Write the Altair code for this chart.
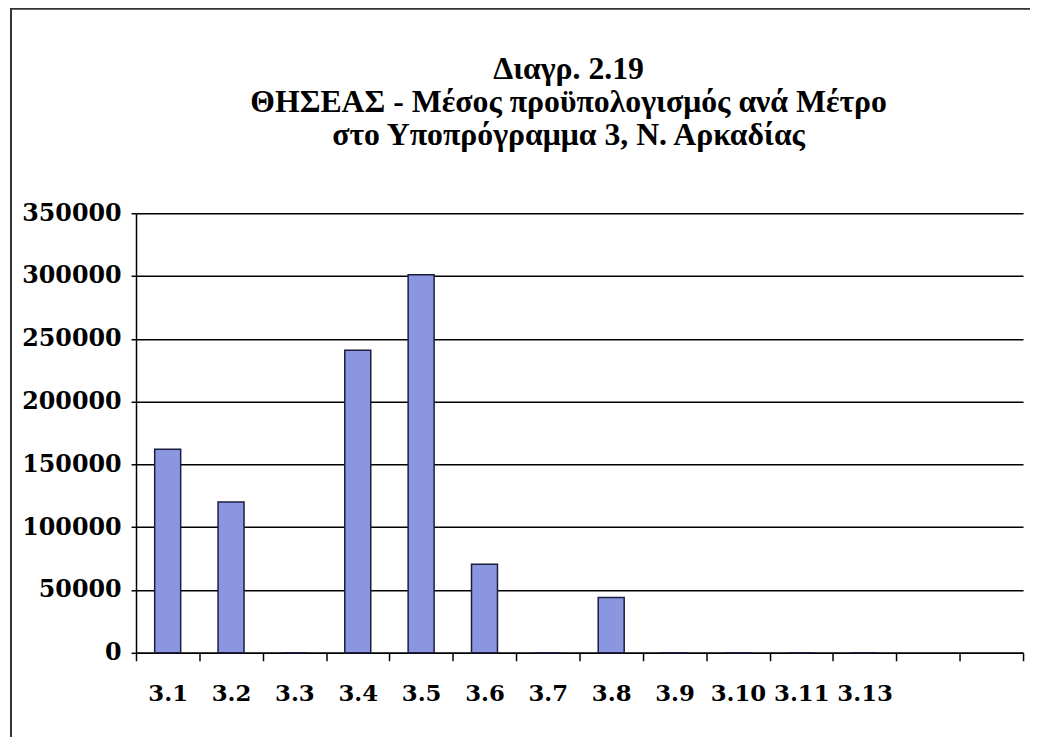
import altair as alt
import pandas as pd

# ---- data ----
categories = ["3.1", "3.2", "3.3", "3.4", "3.5", "3.6", "3.7", "3.8", "3.9", "3.10", "3.11", "3.13"]
values = [162000, 120000, 0, 241000, 301000, 70500, 0, 44000, 0, 0, 0, 0]
empty_slots = [" ", "  "]          # two unlabeled category slots at the right end
y_ticks = [0, 50000, 100000, 150000, 200000, 250000, 300000, 350000]
title_lines = [
    "Διαγρ. 2.19",
    "ΘΗΣΕΑΣ - Μέσος προϋπολογισμός ανά Μέτρο",
    "στο Υποπρόγραμμα 3, Ν. Αρκαδίας",
]

df = pd.DataFrame({"metro": categories, "value": values})
domain = categories + empty_slots

PLOT_W, PLOT_H = 894, 443

bars = alt.Chart(df).mark_bar(
    color="#8A97E0",
    stroke="#1c1c3c",
    strokeWidth=1.5,
    width=alt.RelativeBandSize(0.41),
).encode(
    x=alt.X(
        "metro:N",
        sort=domain,
        scale=alt.Scale(domain=domain, paddingInner=0, paddingOuter=0),
        axis=alt.Axis(
            title=None,
            labelAngle=0,
            labelFont="DejaVu Serif",
            labelFontWeight="bold",
            labelFontSize=23,
            labelColor="black",
            labelPadding=22,
            tickBand="extent",
            tickSize=8,
            tickWidth=1.5,
            tickColor="black",
            domainColor="black",
            domainWidth=1.5,
            grid=False,
        ),
    ),
    y=alt.Y(
        "value:Q",
        scale=alt.Scale(domain=[0, 350000], nice=False),
        axis=alt.Axis(
            title=None,
            values=y_ticks,
            format="d",
            labelFont="DejaVu Serif",
            labelFontWeight="bold",
            labelFontSize=24,
            labelColor="black",
            labelPadding=10,
            tickSize=5,
            tickWidth=1.5,
            tickColor="black",
            domainColor="black",
            domainWidth=1.5,
            grid=True,
            gridColor="black",
            gridWidth=1.5,
        ),
    ),
)

frame = alt.Chart(pd.DataFrame({"f": [0]})).mark_rect(
    filled=False, stroke="#333333", strokeWidth=2, clip=False
).encode(
    x=alt.value(-126), x2=alt.value(PLOT_W + 80),
    y=alt.value(-206), y2=alt.value(PLOT_H + 200),
)

chart = alt.layer(frame, bars).properties(
    width=PLOT_W,
    height=PLOT_H,
    padding={"left": 129, "top": 204, "right": 7, "bottom": 82},
    autosize=alt.AutoSizeParams(type="none"),
    background="white",
    title=alt.TitleParams(
        text=title_lines,
        font="Liberation Serif",
        fontWeight="bold",
        fontSize=32,
        lineHeight=33,
        color="black",
        anchor="middle",
        dx=-11,
        offset=-145,
    ),
).configure_view(stroke=None)

chart.save("out.html", embed_options={"renderer": "svg", "actions": False})
